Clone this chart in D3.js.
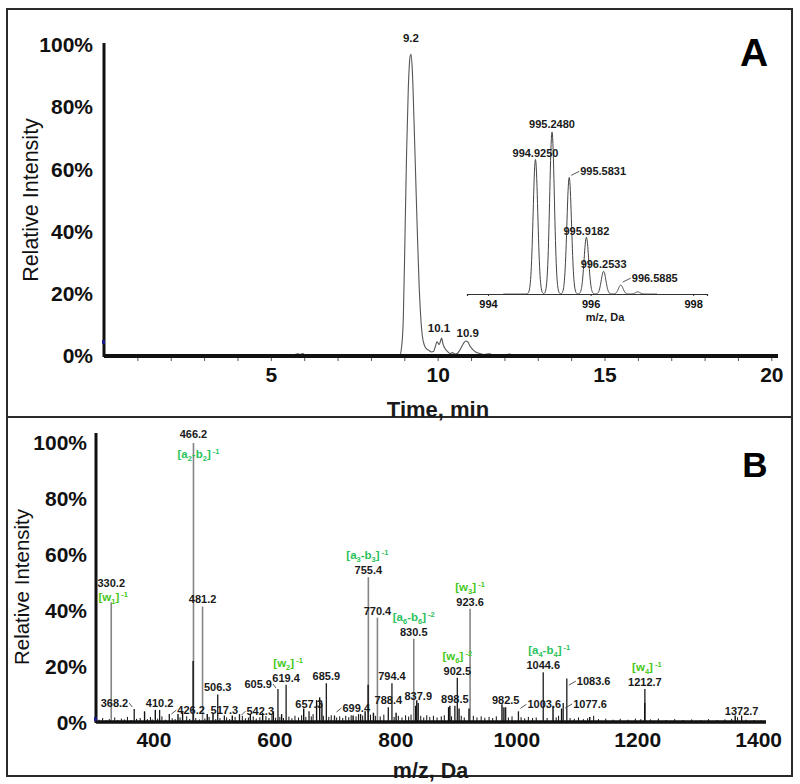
<!DOCTYPE html>
<html><head><meta charset="utf-8">
<script src="https://cdn.jsdelivr.net/npm/d3@7"></script>
<style>body{margin:0;background:#fff} svg{display:block}</style>
</head><body><svg id="chart" width="800" height="784"></svg>
<script>
// ---------- DATA ----------
// Panel A: extracted ion chromatogram (time in min, relative intensity %)
const chromTime = [0, 5.60, 5.72, 5.80, 5.88, 5.96, 6.05, 8.86, 8.92, 8.97, 9.02, 9.07, 9.12, 9.17, 9.20, 9.24, 9.29, 9.34, 9.39, 9.44, 9.49, 9.54, 9.60, 9.66, 9.74, 9.82, 9.88, 9.93, 9.98, 10.02, 10.05, 10.09, 10.12, 10.16, 10.22, 10.30, 10.38, 10.45, 10.52, 10.60, 10.68, 10.76, 10.84, 10.90, 10.96, 11.04, 11.14, 11.26, 11.40, 11.55, 11.70, 11.85, 12.00, 12.15, 12.30, 12.45, 20.2];
const chromInt  = [0, 0, 0.4, 0.7, 0.5, 0.8, 0, 0, 3, 12, 38, 66, 86, 96, 97, 92, 76, 58, 40, 24, 13, 6.5, 3.5, 2.4, 1.8, 1.3, 1.5, 3.0, 4.6, 4.0, 3.7, 5.0, 5.8, 3.8, 2.4, 1.4, 0.8, 1.1, 0.6, 0.9, 2.2, 3.8, 4.8, 4.6, 3.4, 2.2, 1.3, 0.8, 0.5, 0.7, 0.3, 0.5, 0.3, 0.6, 0.2, 0, 0];
const chromLabelT   = [9.2, 10.1, 10.9];
const chromLabelInt = [97, 5.8, 4.8];
const xTicksA = [5, 10, 15, 20];
const minorTicksA = [1,2,3,4,5,6,7,8,9,10,11,12,13,14,15,16,17,18,19,20];
const yTicks = [0, 20, 40, 60, 80, 100];

// Panel A inset: isotope cluster (m/z, relative %)
const isoMz  = [994.9250, 995.2480, 995.5831, 995.9182, 996.2533, 996.5885, 996.92];
const isoInt = [83, 100, 72, 35, 14, 5.5, 1.3];
const isoLabels = ["994.9250", "995.2480", "995.5831", "995.9182", "996.2533", "996.5885"];
const isoTicks = [994, 996, 998];

// Panel B: MS/MS spectrum, labelled peaks (m/z, relative %)
const specMz  = [330.2, 368.2, 410.2, 426.2, 466.2, 481.2, 506.3, 517.3, 542.3, 605.9, 619.4, 657.3, 685.9, 699.4, 755.4, 770.4, 788.4, 794.4, 830.5, 837.9, 898.5, 902.5, 923.6, 982.5, 1003.6, 1044.6, 1077.6, 1083.6, 1212.7, 1372.7];
const specInt = [43, 4.8, 4.5, 3, 100, 41.5, 10, 2.5, 3, 12, 13.5, 4, 14, 2.5, 52, 37.5, 5.5, 14, 30, 7, 6, 16, 40.7, 5.5, 4, 18, 7, 15.7, 12, 2.5];
// unlabelled visible peaks
const minorMz  = [385.3, 403.1, 440.6, 448.2, 465.6, 489.0, 498.5, 530.4, 560.2, 580.6, 598.3, 612.0, 648.5, 669.8, 674.9, 678.6, 730.2, 742.5, 750.1, 755.0, 763.8, 801.3, 833.6, 835.5, 888.1, 890.2, 905.4, 921.8, 976.4, 979.6, 1060.8, 1074.9, 1121.5, 1212.4, 1362.0];
const minorInt = [4, 4.5, 3, 4, 22, 3, 3.5, 2.5, 3, 3.5, 4, 3, 5, 8, 9, 7, 2.5, 3, 4, 13.5, 3.5, 3.5, 6, 8, 5.5, 6, 5, 5, 6.5, 5.5, 6, 5, 2, 7, 2.5];
// baseline noise [m/z, %]
const noisePeaks = [[310,1.0],[316,1.6],[322,0.8],[327,1.2],[336,1.8],[341,0.9],[347,1.4],[352,1.1],[357,2.0],[363,0.9],[372,1.3],[378,1.6],[390,1.2],[395,2.0],[398,1.1],[407,1.4],[414,2.2],[420,1.0],[431,1.5],[436,1.2],[444,1.8],[455,2.2],[460,1.3],[470,1.6],[476,1.1],[485,1.4],[492,2.0],[503,1.2],[510,1.6],[521,1.8],[526,1.2],[535,2.0],[547,2.4],[552,1.5],[557,1.8],[565,2.2],[570,1.4],[576,1.9],[586,2.3],[591,1.6],[596,2.8],[602,1.7],[609,2.0],[615,1.6],[624,2.1],[629,1.5],[634,2.4],[640,1.8],[645,2.6],[652,2.0],[661,2.2],[664,3.0],[681,2.4],[690,2.0],[694,2.6],[703,1.8],[708,2.2],[713,1.6],[718,2.4],[723,1.9],[727,2.6],[735,2.2],[739,3.0],[746,2.5],[759,2.8],[767,2.4],[775,2.2],[781,2.8],[798,2.0],[805,2.4],[811,1.8],[817,2.6],[822,2.1],[826,2.8],[842,2.4],[847,1.8],[852,2.6],[857,2.0],[863,2.4],[869,1.8],[876,2.2],[881,2.6],[893,2.2],[909,2.4],[914,1.8],[929,2.4],[935,1.8],[942,2.2],[948,1.7],[955,2.0],[961,1.6],[967,2.2],[987,1.8],[993,2.2],[1008,1.9],[1014,1.5],[1020,2.0],[1027,1.6],[1033,1.8],[1051,1.6],[1066,1.8],[1070,2.4],[1089,1.6],[1096,1.3],[1103,1.8],[1111,1.2],[1118,1.5],[1128,2.4],[1136,1.2],[1148,1.4],[1160,1.0],[1172,1.3],[1185,1.0],[1197,1.4],[1206,1.2],[1222,1.1],[1235,1.4],[1248,0.9],[1262,1.2],[1276,0.9],[1290,1.1],[1305,0.8],[1318,1.2],[1332,0.9],[1345,1.1],[1356,1.3],[1366,1.9],[1380,1.0],[1393,0.9],[1405,0.8]];
// fragment ion annotations
const ionMz     = [330.2, 466.2, 619.4, 755.4, 830.5, 902.5, 923.6, 1044.6, 1212.7];
const ionSeries = ["w", "ab", "w", "ab", "ab", "w", "w", "ab", "w"];
const ionIndex  = ["1", "2", "2", "3", "6", "6", "3", "4", "4"];
const ionCharge = ["-1", "-1", "-1", "-1", "-2", "-2", "-1", "-1", "-1"];
const xTicksB = [400, 600, 800, 1000, 1200, 1400];

// ---------- LAYOUT / STYLE ----------
const F = '"Liberation Sans", Arial, Helvetica, sans-serif';
const labelLayout = {   // offsets of number label centre relative to peak tip
  "330.2": {dy: -19}, "466.2": {dy: -9},
  "368.2": {anchor: "end", dx: -6, dy: -6, leader: true},
  "426.2": {anchor: "start", dx: 8, dy: -4, leader: true},
  "517.3": {dy: -5}, "542.3": {anchor: "start", dx: 7, dy: -3, leader: true},
  "605.9": {anchor: "end", dx: -6, dy: -5, leader: true},
  "699.4": {anchor: "start", dx: 8, dy: -7.5, leader: true},
  "1003.6": {anchor: "start", dx: 9, dy: -7, leader: true},
  "1077.6": {anchor: "start", dx: 10, dy: 1, leader: true},
  "1083.6": {anchor: "start", dx: 10, dy: 2.5, leader: true},
  "1372.7": {dy: -4.5}
};
const ionLayout = {"330.2": {dx: 2, dy: 14}, "466.2": {dx: 5, dy: 20}, "1044.6": {dx: 6}, "755.4": {dx: -1}, "619.4": {dx: 2}, "1212.7": {dx: 2}};
const isoLayout = {"994.9250": {dy: -6.5}, "995.2480": {dy: -8}, "995.5831": {anchor: "start", dx: 11, dy: -6, leader: true},
  "995.9182": {dy: -6}, "996.2533": {dy: -7}, "996.5885": {anchor: "start", dx: 11, dy: -7, leader: true}};
const chromLayout = [{dx: 0, dy: -16}, {dx: -2, dy: -10}, {dx: 0, dy: -8}];
const colAB = "#29c25a", colW = "#45c91a";

const svg = d3.select("#chart");
svg.append("rect").attr("width", 800).attr("height", 784).attr("fill", "#fff");

// panel frames
svg.append("rect").attr("x", 7).attr("y", 9).attr("width", 785).attr("height", 767)
  .attr("fill", "none").attr("stroke", "#2a2a2a").attr("stroke-width", 2);
svg.append("line").attr("x1", 7).attr("x2", 792).attr("y1", 417).attr("y2", 417)
  .attr("stroke", "#2a2a2a").attr("stroke-width", 2);

function txt(g, x, y, s, o = {}) {
  return g.append("text").attr("x", x).attr("y", y)
    .attr("font-family", F).attr("font-size", o.size || 11)
    .attr("font-weight", o.weight || "bold").attr("fill", o.fill || "#1a1a1a")
    .attr("text-anchor", o.anchor || "middle").attr("dy", o.dy || "0.35em").text(s);
}
function leader(g, px, cy, tx, s) {
  g.append("line").attr("x1", px + s * 2).attr("y1", cy + 4).attr("x2", tx - s * 1).attr("y2", cy)
    .attr("stroke", "#444").attr("stroke-width", 0.9);
}
function styleAxisText(g, size) {
  g.select(".domain").remove();
  g.attr("font-family", F).attr("font-size", size).attr("font-weight", "bold");
  g.selectAll("text").attr("fill", "#111");
}
const intFmt = d3.format("d");

// ---------- PANEL A ----------
const xA = d3.scaleLinear().domain([0, 20.2]).range([104, 778]);
const yA = d3.scaleLinear().domain([0, 100]).range([356, 45]);
const gA = svg.append("g");

gA.append("g").attr("transform", "translate(0,356)")
  .call(d3.axisBottom(xA).tickValues(minorTicksA).tickSize(5).tickFormat(""))
  .call(g => g.select(".domain").remove())
  .selectAll("line").attr("stroke", "#555").attr("stroke-width", 1);

gA.append("path").datum(d3.zip(chromTime, chromInt))
  .attr("d", d3.line().x(d => xA(d[0])).y(d => yA(d[1])).curve(d3.curveMonotoneX))
  .attr("fill", "none").attr("stroke", "#555").attr("stroke-width", 1.1);

chromLabelT.forEach((t, i) => {
  txt(gA, xA(t) + chromLayout[i].dx, yA(chromLabelInt[i]) + chromLayout[i].dy, t.toFixed(1), {size: 11.5});
});

gA.append("line").attr("x1", xA(0)).attr("x2", xA(0)).attr("y1", 43).attr("y2", 357)
  .attr("stroke", "#111").attr("stroke-width", 3);
gA.append("line").attr("x1", xA(0)).attr("x2", 778).attr("y1", 356).attr("y2", 356)
  .attr("stroke", "#111").attr("stroke-width", 4);
gA.append("rect").attr("x", 102).attr("y", 340).attr("width", 3).attr("height", 4).attr("fill", "#1a1a8a");

gA.append("g").attr("transform", "translate(104,0)")
  .call(d3.axisLeft(yA).tickValues(yTicks).tickSize(0).tickPadding(11).tickFormat(d => d + "%"))
  .call(g => styleAxisText(g, 21));
gA.append("g").attr("transform", "translate(0,356)")
  .call(d3.axisBottom(xA).tickValues(xTicksA).tickSize(0).tickPadding(11).tickFormat(intFmt))
  .call(g => styleAxisText(g, 21));

gA.append("text").attr("transform", "translate(38,200) rotate(-90)")
  .attr("text-anchor", "middle").attr("font-family", F).attr("font-size", 21.5).attr("fill", "#111")
  .text("Relative Intensity");
txt(gA, 438, 409, "Time, min", {size: 22, dy: 0});
txt(gA, 754, 52, "A", {size: 39, dy: 0, fill: "#000"});

// inset
const xI = d3.scaleLinear().domain([993.59, 998.27]).range([467, 707]);
const yI = d3.scaleLinear().domain([0, 100]).range([294, 132]);
const sigma = 0.045;
const profileX = d3.range(994.3, 997.3, 0.005);
const profile = profileX.map(m => [m, d3.sum(isoMz, (c, i) => isoInt[i] * Math.exp(-0.5 * ((m - c) / sigma) ** 2))]);
gA.append("path").datum(profile)
  .attr("d", d3.line().x(d => xI(d[0])).y(d => yI(d[1])))
  .attr("fill", "none").attr("stroke", "#444").attr("stroke-width", 1);
gA.append("g").attr("transform", "translate(0,294)")
  .call(d3.axisBottom(xI).tickValues(isoTicks).tickSize(2).tickPadding(4).tickFormat(intFmt))
  .call(g => g.select(".domain").attr("stroke", "#333").attr("stroke-width", 1.2))
  .call(g => { g.attr("font-family", F).attr("font-size", 11).attr("font-weight", "bold"); g.selectAll("text").attr("fill", "#111"); g.selectAll("line").attr("stroke", "#333"); });
txt(gA, 605, 317, "m/z, Da", {size: 11, dy: 0});
isoLabels.forEach((s, i) => {
  const L = isoLayout[s] || {};
  const px = xI(isoMz[i]), py = yI(isoInt[i]);
  const tx = px + (L.dx || 0), ty = py + (L.dy || -7);
  if (L.leader) leader(gA, px, ty, tx, 1);
  txt(gA, tx, ty, s, {anchor: L.anchor || "middle"});
});

// ---------- PANEL B ----------
const xB = d3.scaleLinear().domain([305, 1413]).range([96, 766]);
const yB = d3.scaleLinear().domain([0, 100]).range([722.5, 443]);
const gB = svg.append("g");

gB.selectAll(".noise").data(noisePeaks).join("line")
  .attr("x1", d => xB(d[0])).attr("x2", d => xB(d[0])).attr("y1", yB(0)).attr("y2", d => yB(d[1]))
  .attr("stroke", "#111").attr("stroke-width", 1);
gB.selectAll(".main").data(d3.zip(specMz, specInt)).join("line")
  .attr("x1", d => xB(d[0])).attr("x2", d => xB(d[0])).attr("y1", yB(0)).attr("y2", d => yB(d[1]))
  .attr("stroke", d => d[1] >= 20 ? "#858585" : "#1c1c1c").attr("stroke-width", d => d[1] >= 20 ? 1.6 : 1.3);
gB.selectAll(".minor").data(d3.zip(minorMz, minorInt)).join("line")
  .attr("x1", d => xB(d[0])).attr("x2", d => xB(d[0])).attr("y1", yB(0)).attr("y2", d => yB(d[1]))
  .attr("stroke", "#111").attr("stroke-width", 1.4);

// number labels
specMz.forEach((m, i) => {
  const s = m.toFixed(1);
  const L = labelLayout[s] || {};
  const px = xB(m), py = yB(specInt[i]);
  const tx = px + (L.dx || 0), ty = py + (L.dy !== undefined ? L.dy : -7);
  if (L.leader) leader(gB, px, ty, tx, L.anchor === "end" ? -1 : 1);
  txt(gB, tx, ty, s, {anchor: L.anchor || "middle"});
});
// ion annotations
ionMz.forEach((m, i) => {
  const s = m.toFixed(1);
  const k = specMz.indexOf(m);
  const L = ionLayout[s] || {};
  const numY = yB(specInt[k]) + ((labelLayout[s] || {}).dy !== undefined ? labelLayout[s].dy : -7);
  const y = numY + (L.dy !== undefined ? L.dy : -15);
  const t = gB.append("text").attr("x", xB(m) + (L.dx || 0)).attr("y", y).attr("dy", "0.35em")
    .attr("text-anchor", "middle").attr("font-family", F).attr("font-size", 11.5).attr("font-weight", "bold")
    .attr("fill", ionSeries[i] === "ab" ? colAB : colW);
  if (ionSeries[i] === "ab") {
    t.append("tspan").text("[a");
    t.append("tspan").attr("font-size", 7.5).attr("dy", 3).text(ionIndex[i]);
    t.append("tspan").attr("dy", -3).text("-b");
    t.append("tspan").attr("font-size", 7.5).attr("dy", 3).text(ionIndex[i]);
    t.append("tspan").attr("dy", -3).text("]");
  } else {
    t.append("tspan").text("[w");
    t.append("tspan").attr("font-size", 7.5).attr("dy", 3).text(ionIndex[i]);
    t.append("tspan").attr("dy", -3).text("]");
  }
  t.append("tspan").attr("font-size", 7.5).attr("dy", -4).text(" " + ionCharge[i]);
});

gB.append("line").attr("x1", 96).attr("x2", 96).attr("y1", 433).attr("y2", 723)
  .attr("stroke", "#111").attr("stroke-width", 3);
gB.append("line").attr("x1", 96).attr("x2", 766).attr("y1", 722).attr("y2", 722)
  .attr("stroke", "#111").attr("stroke-width", 3.5);
gB.append("rect").attr("x", 94).attr("y", 717).attr("width", 3).attr("height", 4).attr("fill", "#1a1a8a");

gB.append("g").attr("transform", "translate(96,0)")
  .call(d3.axisLeft(yB).tickValues(yTicks).tickSize(0).tickPadding(9).tickFormat(d => d + "%"))
  .call(g => styleAxisText(g, 21));
gB.append("g").attr("transform", "translate(0,722)")
  .call(d3.axisBottom(xB).tickValues(xTicksB).tickSize(0).tickPadding(10).tickFormat(intFmt))
  .call(g => styleAxisText(g, 21));

gB.append("text").attr("transform", "translate(29,587) rotate(-90)")
  .attr("text-anchor", "middle").attr("font-family", F).attr("font-size", 20.5).attr("fill", "#111")
  .text("Relative Intensity");
txt(gB, 430.5, 770, "m/z, Da", {size: 21.5, dy: 0});
txt(gB, 755, 465, "B", {size: 35, dy: 0, fill: "#000"});
</script>
</body></html>
